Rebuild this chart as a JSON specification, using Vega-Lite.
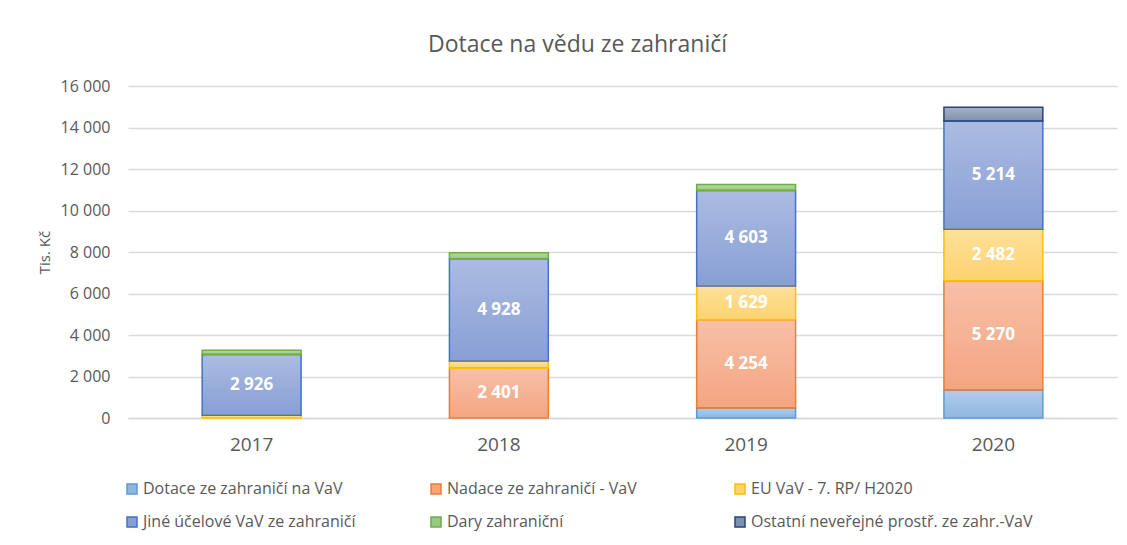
{
  "$schema": "https://vega.github.io/schema/vega-lite/v6.json",
  "width": 989,
  "height": 332,
  "autosize": {"type": "none"},
  "padding": {"left": 128, "top": 86, "right": 10, "bottom": 127},
  "background": "white",
  "config": {"view": {"stroke": null}, "font": "Open Sans"},
  "title": {
    "text": "Dotace na vědu ze zahraničí",
    "fontSize": 23,
    "font": "Open Sans",
    "fontWeight": "normal",
    "color": "#595959",
    "anchor": "middle",
    "frame": "group",
    "dx": -45,
    "offset": 21
  },
  "data": {
    "values": [
      {"rok": "2017", "serie": "EU VaV - 7. RP/ H2020", "hodnota": 130},
      {"rok": "2017", "serie": "Jiné účelové VaV ze zahraničí", "hodnota": 2926},
      {"rok": "2017", "serie": "Dary zahraniční", "hodnota": 210},
      {"rok": "2018", "serie": "Nadace ze zahraničí - VaV", "hodnota": 2401},
      {"rok": "2018", "serie": "EU VaV - 7. RP/ H2020", "hodnota": 340},
      {"rok": "2018", "serie": "Jiné účelové VaV ze zahraničí", "hodnota": 4928},
      {"rok": "2018", "serie": "Dary zahraniční", "hodnota": 300},
      {"rok": "2019", "serie": "Dotace ze zahraničí na VaV", "hodnota": 480},
      {"rok": "2019", "serie": "Nadace ze zahraničí - VaV", "hodnota": 4254},
      {"rok": "2019", "serie": "EU VaV - 7. RP/ H2020", "hodnota": 1629},
      {"rok": "2019", "serie": "Jiné účelové VaV ze zahraničí", "hodnota": 4603},
      {"rok": "2019", "serie": "Dary zahraniční", "hodnota": 290},
      {"rok": "2020", "serie": "Dotace ze zahraničí na VaV", "hodnota": 1350},
      {"rok": "2020", "serie": "Nadace ze zahraničí - VaV", "hodnota": 5270},
      {"rok": "2020", "serie": "EU VaV - 7. RP/ H2020", "hodnota": 2482},
      {"rok": "2020", "serie": "Jiné účelové VaV ze zahraničí", "hodnota": 5214},
      {"rok": "2020", "serie": "Ostatní neveřejné prostř. ze zahr.-VaV", "hodnota": 660}
    ]
  },
  "transform": [
    {"calculate": "indexof(['Dotace ze zahraničí na VaV','Nadace ze zahraničí - VaV','EU VaV - 7. RP/ H2020','Jiné účelové VaV ze zahraničí','Dary zahraniční','Ostatní neveřejné prostř. ze zahr.-VaV'], datum.serie)", "as": "poradi"},
    {"stack": "hodnota", "groupby": ["rok"], "sort": [{"field": "poradi", "order": "ascending"}], "as": ["y0", "y1"]},
    {"calculate": "(datum.y0 + datum.y1) / 2", "as": "stred"}
  ],
  "encoding": {
    "x": {
      "field": "rok",
      "type": "nominal",
      "scale": {"paddingInner": 0.6, "paddingOuter": 0.3},
      "axis": {
        "title": null,
        "labelAngle": 0,
        "labelFontSize": 19,
        "labelColor": "#595959",
        "labelPadding": 17,
        "ticks": false,
        "domainColor": "#d9d9d9",
        "domainWidth": 1.5
      }
    }
  },
  "layer": [
    {
      "mark": {"type": "bar", "strokeWidth": 0},
      "encoding": {
        "y": {
          "field": "y0",
          "type": "quantitative",
          "scale": {"domain": [0, 16000]},
          "axis": {
            "title": "Tis. Kč",
            "titleFontSize": 15,
            "titleFontWeight": "normal",
            "titleColor": "#595959",
            "titlePadding": 8,
            "values": [0, 2000, 4000, 6000, 8000, 10000, 12000, 14000, 16000],
            "labelExpr": "replace(format(datum.value, ','), ',', ' ')",
            "labelFontSize": 16,
            "labelColor": "#595959",
            "labelPadding": 18,
            "ticks": false,
            "domain": false,
            "gridColor": "#d9d9d9",
            "gridWidth": 1.5
          }
        },
        "y2": {"field": "y1"},
        "fill": {
          "field": "serie",
          "type": "nominal",
          "scale": {
            "domain": ["Dotace ze zahraničí na VaV", "Nadace ze zahraničí - VaV", "EU VaV - 7. RP/ H2020", "Jiné účelové VaV ze zahraničí", "Dary zahraniční", "Ostatní neveřejné prostř. ze zahr.-VaV"],
            "range": ["#8FB6E2", "#F4A582", "#FDD36F", "#889FD5", "#98C882", "#8092AA"]
          },
          "legend": {
            "title": null,
            "orient": "none",
            "direction": "horizontal",
            "legendX": -4,
            "legendY": 395,
            "columns": 3,
            "gridAlign": "all",
            "columnPadding": 3,
            "rowPadding": 17,
            "symbolType": "square",
            "symbolSize": 100,
            "labelFontSize": 16,
            "labelColor": "#595959",
            "labelOffset": 3,
            "labelLimit": 400
          }
        }
      }
    },
    {
      "mark": {
        "type": "bar",
        "strokeWidth": 0,
        "fill": {
          "gradient": "linear",
          "x1": 0, "y1": 0, "x2": 0, "y2": 1,
          "stops": [
            {"offset": 0, "color": "rgba(255,255,255,0.3)"},
            {"offset": 1, "color": "rgba(255,255,255,0)"}
          ]
        }
      },
      "encoding": {
        "y": {"field": "y0", "type": "quantitative"},
        "y2": {"field": "y1"}
      }
    },
    {
      "mark": {"type": "bar", "fill": "transparent", "strokeWidth": 1.5},
      "encoding": {
        "y": {"field": "y0", "type": "quantitative"},
        "y2": {"field": "y1"},
        "stroke": {
          "field": "serie",
          "type": "nominal",
          "scale": {
            "domain": ["Dotace ze zahraničí na VaV", "Nadace ze zahraničí - VaV", "EU VaV - 7. RP/ H2020", "Jiné účelové VaV ze zahraničí", "Dary zahraniční", "Ostatní neveřejné prostř. ze zahr.-VaV"],
            "range": ["#5B9BD5", "#ED7D31", "#FFC000", "#4472C4", "#70AD47", "#264478"]
          },
          "legend": null
        }
      }
    },
    {
      "transform": [
        {"filter": "datum.hodnota >= 1500"},
        {"calculate": "replace(format(datum.hodnota, ','), ',', ' ')", "as": "popisek"}
      ],
      "mark": {"type": "text", "color": "white", "fontWeight": "bold", "fontSize": 17},
      "encoding": {
        "y": {"field": "stred", "type": "quantitative"},
        "text": {"field": "popisek"}
      }
    }
  ]
}
